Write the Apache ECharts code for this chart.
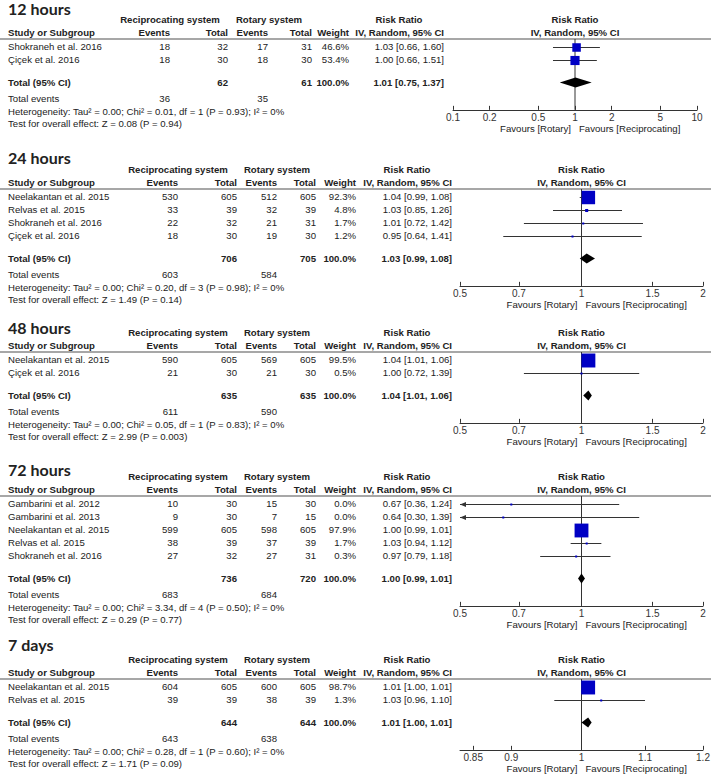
<!DOCTYPE html>
<html><head><meta charset="utf-8">
<script src="https://cdn.jsdelivr.net/npm/echarts@6/dist/echarts.min.js"></script>
<style>html,body{margin:0;padding:0;background:#fff}#c{width:713px;height:776px}</style>
</head><body><div id="c"></div>
<script>
// ---------------- DATA ----------------
const titles = ['12 hours', '24 hours', '48 hours', '72 hours', '7 days'];

// 12 hours
const study12 = ['Shokraneh et al. 2016', 'Çiçek et al. 2016'];
const recEvents12 = [18, 18];
const recTotal12 = [32, 30];
const rotEvents12 = [17, 18];
const rotTotal12 = [31, 30];
const weight12 = [46.6, 53.4];
const rr12 = [1.03, 1.00];
const rrLow12 = [0.66, 0.66];
const rrHigh12 = [1.60, 1.51];
const total12 = [62, 61];
const totalEvents12 = [36, 35];
const pooled12 = [1.01, 0.75, 1.37];
const het12 = 'Heterogeneity: Tau² = 0.00; Chi² = 0.01, df = 1 (P = 0.93); I² = 0%';
const test12 = 'Test for overall effect: Z = 0.08 (P = 0.94)';
const range12 = [0.1, 10];
const ticks12 = [0.1, 0.2, 0.5, 1, 2, 5, 10];
const tickLabels12 = ['0.1', '0.2', '0.5', '1', '2', '5', '10'];

// 24 hours
const study24 = ['Neelakantan et al. 2015', 'Relvas et al. 2015', 'Shokraneh et al. 2016', 'Çiçek et al. 2016'];
const recEvents24 = [530, 33, 22, 18];
const recTotal24 = [605, 39, 32, 30];
const rotEvents24 = [512, 32, 21, 19];
const rotTotal24 = [605, 39, 31, 30];
const weight24 = [92.3, 4.8, 1.7, 1.2];
const rr24 = [1.04, 1.03, 1.01, 0.95];
const rrLow24 = [0.99, 0.85, 0.72, 0.64];
const rrHigh24 = [1.08, 1.26, 1.42, 1.41];
const total24 = [706, 705];
const totalEvents24 = [603, 584];
const pooled24 = [1.03, 0.99, 1.08];
const het24 = 'Heterogeneity: Tau² = 0.00; Chi² = 0.20, df = 3 (P = 0.98); I² = 0%';
const test24 = 'Test for overall effect: Z = 1.49 (P = 0.14)';
const range24 = [0.5, 2];
const ticks24 = [0.5, 0.7, 1, 1.5, 2];
const tickLabels24 = ['0.5', '0.7', '1', '1.5', '2'];

// 48 hours
const study48 = ['Neelakantan et al. 2015', 'Çiçek et al. 2016'];
const recEvents48 = [590, 21];
const recTotal48 = [605, 30];
const rotEvents48 = [569, 21];
const rotTotal48 = [605, 30];
const weight48 = [99.5, 0.5];
const rr48 = [1.04, 1.00];
const rrLow48 = [1.01, 0.72];
const rrHigh48 = [1.06, 1.39];
const total48 = [635, 635];
const totalEvents48 = [611, 590];
const pooled48 = [1.04, 1.01, 1.06];
const het48 = 'Heterogeneity: Tau² = 0.00; Chi² = 0.05, df = 1 (P = 0.83); I² = 0%';
const test48 = 'Test for overall effect: Z = 2.99 (P = 0.003)';
const range48 = [0.5, 2];
const ticks48 = [0.5, 0.7, 1, 1.5, 2];
const tickLabels48 = ['0.5', '0.7', '1', '1.5', '2'];

// 72 hours
const study72 = ['Gambarini et al. 2012', 'Gambarini et al. 2013', 'Neelakantan et al. 2015', 'Relvas et al. 2015', 'Shokraneh et al. 2016'];
const recEvents72 = [10, 9, 599, 38, 27];
const recTotal72 = [30, 30, 605, 39, 32];
const rotEvents72 = [15, 7, 598, 37, 27];
const rotTotal72 = [30, 15, 605, 39, 31];
const weight72 = [0.0, 0.0, 97.9, 1.7, 0.3];
const rr72 = [0.67, 0.64, 1.00, 1.03, 0.97];
const rrLow72 = [0.36, 0.30, 0.99, 0.94, 0.79];
const rrHigh72 = [1.24, 1.39, 1.01, 1.12, 1.18];
const total72 = [736, 720];
const totalEvents72 = [683, 684];
const pooled72 = [1.00, 0.99, 1.01];
const het72 = 'Heterogeneity: Tau² = 0.00; Chi² = 3.34, df = 4 (P = 0.50); I² = 0%';
const test72 = 'Test for overall effect: Z = 0.29 (P = 0.77)';
const range72 = [0.5, 2];
const ticks72 = [0.5, 0.7, 1, 1.5, 2];
const tickLabels72 = ['0.5', '0.7', '1', '1.5', '2'];

// 7 days
const study7d = ['Neelakantan et al. 2015', 'Relvas et al. 2015'];
const recEvents7d = [604, 39];
const recTotal7d = [605, 39];
const rotEvents7d = [600, 38];
const rotTotal7d = [605, 39];
const weight7d = [98.7, 1.3];
const rr7d = [1.01, 1.03];
const rrLow7d = [1.00, 0.96];
const rrHigh7d = [1.01, 1.10];
const total7d = [644, 644];
const totalEvents7d = [643, 638];
const pooled7d = [1.01, 1.00, 1.01];
const het7d = 'Heterogeneity: Tau² = 0.00; Chi² = 0.28, df = 1 (P = 0.60); I² = 0%';
const test7d = 'Test for overall effect: Z = 1.71 (P = 0.09)';
const range7d = [0.8333, 1.2];
const ticks7d = [0.85, 0.9, 1, 1.1, 1.2];
const tickLabels7d = ['0.85', '0.9', '1', '1.1', '1.2'];

// ---------------- LAYOUT ----------------
const FONT = '"Liberation Sans", Arial, Helvetica, sans-serif';
const FS = '9.6px ';
const TITLE_FONT = 'bold 16px Lato, "Open Sans", sans-serif';
const TXT = '#222';
const ROW_H = 13, Y_MIN = -0.6, Y_TAIL = 2.1, TOTAL_GAP = 0.75;
const sepYs = [39, 189, 352, 496, 679];
const titleDy = [32, 32.5, 25, 27.5, 35];
const plotX = [[453, 697], [460, 703], [460, 703], [460, 703], [460, 703]];
const colsNarrow = { recEv: 170, recTot: 228, rotEv: 268, rotTot: 312, wt: 349, rr: 444, recHdr: 170, rotHdr: 269 };
const colsWide = { recEv: 178, recTot: 237, rotEv: 277, rotTot: 316, wt: 356, rr: 452, recHdr: 178, rotHdr: 277 };
const panelCols = [colsNarrow, colsWide, colsWide, colsWide, colsWide];
const sqScale = [12.5, 14, 14, 14, 14];

const raw = [
  [study12, recEvents12, recTotal12, rotEvents12, rotTotal12, weight12, rr12, rrLow12, rrHigh12, total12, totalEvents12, pooled12, het12, test12, range12, ticks12, tickLabels12],
  [study24, recEvents24, recTotal24, rotEvents24, rotTotal24, weight24, rr24, rrLow24, rrHigh24, total24, totalEvents24, pooled24, het24, test24, range24, ticks24, tickLabels24],
  [study48, recEvents48, recTotal48, rotEvents48, rotTotal48, weight48, rr48, rrLow48, rrHigh48, total48, totalEvents48, pooled48, het48, test48, range48, ticks48, tickLabels48],
  [study72, recEvents72, recTotal72, rotEvents72, rotTotal72, weight72, rr72, rrLow72, rrHigh72, total72, totalEvents72, pooled72, het72, test72, range72, ticks72, tickLabels72],
  [study7d, recEvents7d, recTotal7d, rotEvents7d, rotTotal7d, weight7d, rr7d, rrLow7d, rrHigh7d, total7d, totalEvents7d, pooled7d, het7d, test7d, range7d, ticks7d, tickLabels7d]
];

const panels = raw.map((r, i) => {
  const [study, recEv, recTot, rotEv, rotTot, wt, rr, lo, hi, tot, totEv, pooled, het, test, range, ticks, tickLabels] = r;
  const n = study.length;
  const yMax = n + TOTAL_GAP + Y_TAIL;
  const sepY = sepYs[i];
  const height = (yMax - Y_MIN) * ROW_H;
  return {
    i, study, recEv, recTot, rotEv, rotTot, wt, rr, lo, hi, tot, totEv, pooled, het, test, range, ticks, tickLabels,
    n, totalRow: n + TOTAL_GAP, yMax, sepY, height, axisY: sepY + height,
    lnMin: Math.log(range[0]), lnMax: Math.log(range[1]),
    x0: plotX[i][0], x1: plotX[i][1], cols: panelCols[i], sq: sqScale[i]
  };
});

const rowY = (P, row) => P.sepY + (row - Y_MIN) * ROW_H;
const centerX = P => P.x0 + (0 - P.lnMin) / (P.lnMax - P.lnMin) * (P.x1 - P.x0);
const fmt2 = v => v.toFixed(2);
const rrText = (e, l, h) => fmt2(e) + ' [' + fmt2(l) + ', ' + fmt2(h) + ']';

function txt(x, y, s, align, bold, font, valign) {
  const va = valign || 'middle';
  return {
    type: 'text', x: x, y: y, silent: true, z: 10,
    style: {
      text: String(s), font: font || ((bold ? 'bold ' : '') + FS + FONT), fill: TXT,
      align: align || 'left', verticalAlign: va, textAlign: align || 'left', textVerticalAlign: va
    }
  };
}

const graphics = [];
panels.forEach(P => {
  const C = P.cols, cx = centerX(P);
  // title
  graphics.push(txt(8, Math.max(0, P.sepY - titleDy[P.i] - 7.5), titles[P.i], 'left', true, TITLE_FONT, 'top'));
  const h1 = P.sepY - 19.5, h2 = P.sepY - 6.5;
  graphics.push(txt(C.recHdr, h1, 'Reciprocating system', 'center', true));
  graphics.push(txt(C.rotHdr, h1, 'Rotary system', 'center', true));
  graphics.push(txt(C.rr - 45, h1, 'Risk Ratio', 'center', true));
  graphics.push(txt(cx, h1, 'Risk Ratio', 'center', true));
  graphics.push(txt(8, h2, 'Study or Subgroup', 'left', true));
  graphics.push(txt(C.recEv, h2, 'Events', 'right', true));
  graphics.push(txt(C.recTot, h2, 'Total', 'right', true));
  graphics.push(txt(C.rotEv, h2, 'Events', 'right', true));
  graphics.push(txt(C.rotTot, h2, 'Total', 'right', true));
  graphics.push(txt(C.wt, h2, 'Weight', 'right', true));
  graphics.push(txt(C.rr, h2, 'IV, Random, 95% CI', 'right', true));
  graphics.push(txt(cx, h2, 'IV, Random, 95% CI', 'center', true));
  // separator
  graphics.push({ type: 'line', silent: true, shape: { x1: 0, y1: P.sepY, x2: 711, y2: P.sepY }, style: { stroke: '#8a8a8a', lineWidth: 1.5 } });
  // study rows
  P.study.forEach((s, j) => {
    const y = rowY(P, j);
    graphics.push(txt(8, y, s, 'left'));
    graphics.push(txt(C.recEv, y, P.recEv[j], 'right'));
    graphics.push(txt(C.recTot, y, P.recTot[j], 'right'));
    graphics.push(txt(C.rotEv, y, P.rotEv[j], 'right'));
    graphics.push(txt(C.rotTot, y, P.rotTot[j], 'right'));
    graphics.push(txt(C.wt, y, P.wt[j].toFixed(1) + '%', 'right'));
    graphics.push(txt(C.rr, y, rrText(P.rr[j], P.lo[j], P.hi[j]), 'right'));
  });
  // total row
  const ty = rowY(P, P.totalRow);
  graphics.push(txt(8, ty, 'Total (95% CI)', 'left', true));
  graphics.push(txt(C.recTot, ty, P.tot[0], 'right', true));
  graphics.push(txt(C.rotTot, ty, P.tot[1], 'right', true));
  graphics.push(txt(C.wt, ty, '100.0%', 'right', true));
  graphics.push(txt(C.rr, ty, rrText(P.pooled[0], P.pooled[1], P.pooled[2]), 'right', true));
  graphics.push(txt(8, ty + 16, 'Total events', 'left'));
  graphics.push(txt(C.recEv, ty + 16, P.totEv[0], 'right'));
  graphics.push(txt(C.rotEv, ty + 16, P.totEv[1], 'right'));
  graphics.push(txt(8, ty + 28.5, P.het, 'left'));
  graphics.push(txt(8, ty + 41, P.test, 'left'));
  // favours
  graphics.push(txt(cx - 4, P.axisY + 19, 'Favours [Rotary]', 'right'));
  graphics.push(txt(cx + 4, P.axisY + 19, 'Favours [Reciprocating]', 'left'));
});

function studyRender(P) {
  return function (params, api) {
    const est = api.value(0), row = api.value(1), lo = api.value(2), hi = api.value(3), w = api.value(4);
    const l = Math.max(lo, P.lnMin), h = Math.min(hi, P.lnMax);
    const a = api.coord([l, row]), b = api.coord([h, row]), c = api.coord([est, row]);
    const y = Math.round(a[1]) + 0.5;
    const s = Math.max(2, P.sq * Math.sqrt(w / 100));
    const children = [
      { type: 'line', shape: { x1: a[0], y1: y, x2: b[0], y2: y }, style: { stroke: '#333', lineWidth: 1 } },
      { type: 'rect', shape: { x: c[0] - s / 2, y: y - s / 2, width: s, height: s }, style: { fill: '#0000c4' } }
    ];
    if (lo < P.lnMin) children.push({ type: 'polygon', shape: { points: [[a[0], y], [a[0] + 6, y - 2.5], [a[0] + 6, y + 2.5]] }, style: { fill: '#333' } });
    if (hi > P.lnMax) children.push({ type: 'polygon', shape: { points: [[b[0], y], [b[0] - 6, y - 2.5], [b[0] - 6, y + 2.5]] }, style: { fill: '#333' } });
    return { type: 'group', children };
  };
}
function diamondRender(params, api) {
  const est = api.value(0), row = api.value(1), lo = api.value(2), hi = api.value(3);
  const a = api.coord([lo, row]), b = api.coord([hi, row]), c = api.coord([est, row]);
  const hh = 5, minHalf = 3.5;
  const left = Math.min(a[0], c[0] - minHalf), right = Math.max(b[0], c[0] + minHalf);
  return { type: 'polygon', shape: { points: [[left, c[1]], [c[0], c[1] - hh], [right, c[1]], [c[0], c[1] + hh]] }, style: { fill: '#000' } };
}

const grid = [], xAxis = [], yAxis = [], series = [];
panels.forEach((P, i) => {
  grid.push({ left: P.x0, width: P.x1 - P.x0, top: P.sepY, height: P.height, containLabel: false, outerBoundsMode: 'none' });
  const tv = P.ticks.map(Math.log);
  xAxis.push({
    gridIndex: i, type: 'value', min: P.lnMin, max: P.lnMax,
    axisLine: { show: true, onZero: false, lineStyle: { color: '#333', width: 1 } },
    axisTick: { show: true, inside: true, length: 4, customValues: tv, lineStyle: { color: '#333' } },
    axisLabel: {
      show: true, customValues: tv, margin: 3, fontSize: 10, fontFamily: FONT, color: '#333',
      formatter: v => { let k = 0, best = 1e9; tv.forEach((t, m) => { if (Math.abs(t - v) < best) { best = Math.abs(t - v); k = m; } }); return P.tickLabels[k]; }
    },
    splitLine: { show: false }
  });
  yAxis.push({ gridIndex: i, type: 'value', min: Y_MIN, max: P.yMax, inverse: true, show: false });
  series.push({
    type: 'line', xAxisIndex: i, yAxisIndex: i, data: [[0, Y_MIN], [0, P.yMax]], symbol: 'none', silent: true, z: 1,
    lineStyle: { color: '#333', width: 1 }
  });
  series.push({
    type: 'custom', xAxisIndex: i, yAxisIndex: i, z: 3, silent: true,
    encode: { x: [0, 2, 3], y: 1 },
    data: P.study.map((s, j) => [Math.log(P.rr[j]), j, Math.log(P.lo[j]), Math.log(P.hi[j]), P.wt[j]]),
    renderItem: studyRender(P)
  });
  series.push({
    type: 'custom', xAxisIndex: i, yAxisIndex: i, z: 4, silent: true,
    encode: { x: [0, 2, 3], y: 1 },
    data: [[Math.log(P.pooled[0]), P.totalRow, Math.log(P.pooled[1]), Math.log(P.pooled[2])]],
    renderItem: diamondRender
  });
});

const chart = echarts.init(document.getElementById('c'), null, { renderer: 'svg' });
chart.setOption({ animation: false, backgroundColor: '#fff', grid, xAxis, yAxis, series, graphic: graphics });
</script></body></html>
